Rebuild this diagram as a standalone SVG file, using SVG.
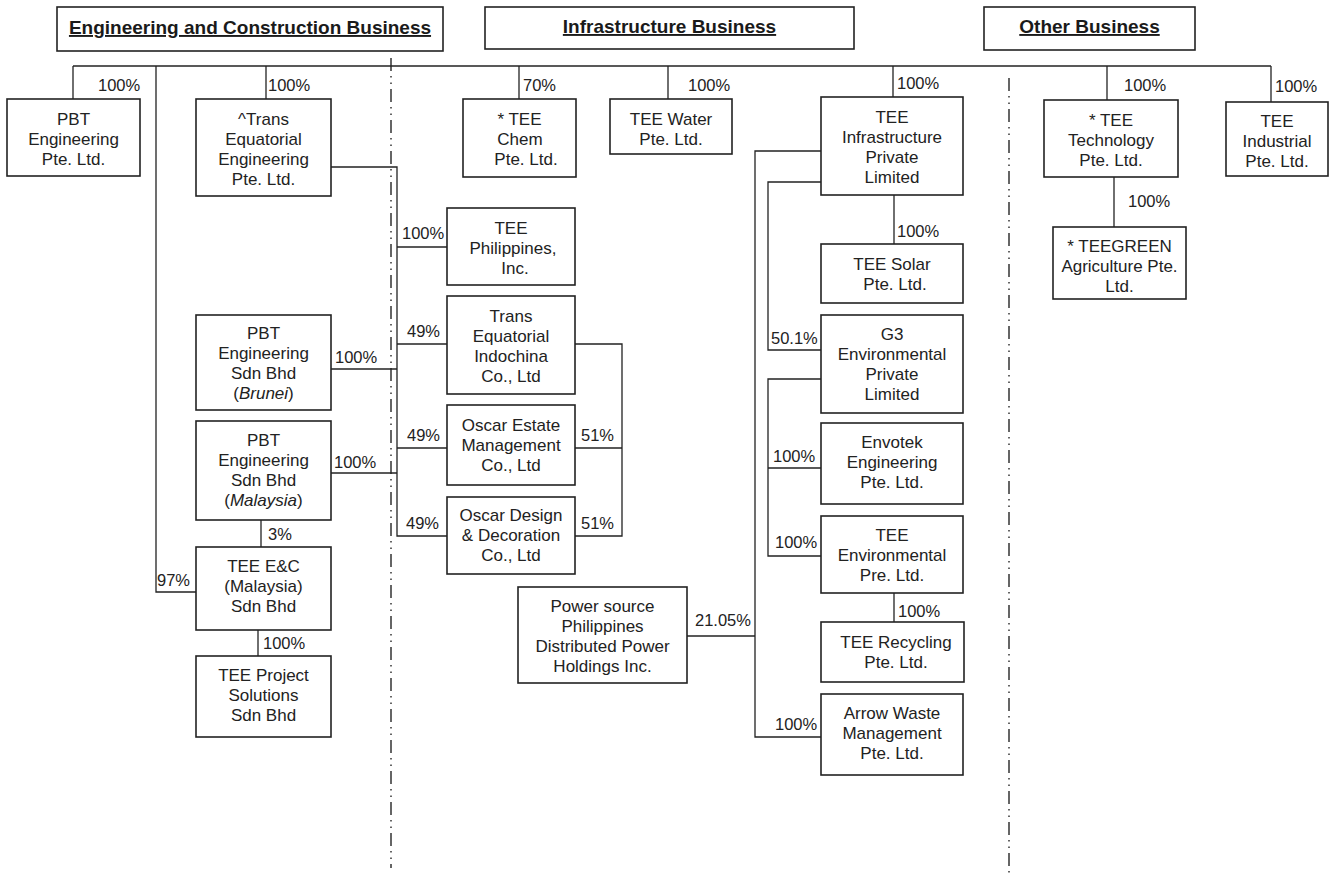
<svg xmlns="http://www.w3.org/2000/svg" width="1333" height="882" viewBox="0 0 1333 882">
<style>
.box{fill:#fff;stroke:#222;stroke-width:1.6}
.hdr{fill:#fff;stroke:#222;stroke-width:1.6}
.ht{font-family:"Liberation Sans",Arial,sans-serif;font-size:19px;font-weight:bold;fill:#1a1a1a;text-anchor:middle;text-decoration:underline}
.t{font-family:"Liberation Sans",Arial,sans-serif;font-size:17px;fill:#222;text-anchor:middle}
.p{font-family:"Liberation Sans",Arial,sans-serif;font-size:16.5px;fill:#222}
.c{fill:none;stroke:#222;stroke-width:1.3}
.dd{fill:none;stroke:#333;stroke-width:1.5;stroke-dasharray:13 5 1.5 5 1.5 5}
</style>
<rect width="1333" height="882" fill="#fff"/>
<g id="dividers">
<line class="dd" x1="391" y1="58" x2="391" y2="868"/>
<line class="dd" x1="1009" y1="78" x2="1009" y2="876"/>
</g>
<g id="connectors">
<path class="c" d="M73,66 H1271"/>
<path class="c" d="M73,66 V99"/>
<path class="c" d="M156,66 V592 H196"/>
<path class="c" d="M266,66 V99"/>
<path class="c" d="M519,66 V99"/>
<path class="c" d="M668,66 V99"/>
<path class="c" d="M893,66 V97"/>
<path class="c" d="M1107,66 V100"/>
<path class="c" d="M1271,66 V102"/>
<path class="c" d="M1114,177 V227"/>
<path class="c" d="M331,167 H397 V536 H447"/>
<path class="c" d="M397,247 H447"/>
<path class="c" d="M397,344 H447"/>
<path class="c" d="M397,448 H447"/>
<path class="c" d="M331,369 H397"/>
<path class="c" d="M331,473 H397"/>
<path class="c" d="M575,344 H622 V536 H575"/>
<path class="c" d="M575,448 H622"/>
<path class="c" d="M261,520 V547"/>
<path class="c" d="M258,630 V656"/>
<path class="c" d="M821,151 H755 V737 H821"/>
<path class="c" d="M687,636 H755"/>
<path class="c" d="M821,182 H768 V350 H821"/>
<path class="c" d="M894,195 V244"/>
<path class="c" d="M821,379 H768 V556 H821"/>
<path class="c" d="M768,468 H821"/>
<path class="c" d="M894,593 V622"/>
</g>
<g id="labels">
<text class="p" x="98" y="91">100%</text>
<text class="p" x="268" y="91">100%</text>
<text class="p" x="523" y="91">70%</text>
<text class="p" x="688" y="91">100%</text>
<text class="p" x="897" y="89">100%</text>
<text class="p" x="1124" y="91">100%</text>
<text class="p" x="1275" y="92">100%</text>
<text class="p" x="1128" y="207">100%</text>
<text class="p" x="897" y="237">100%</text>
<text class="p" x="771" y="344">50.1%</text>
<text class="p" x="773" y="462">100%</text>
<text class="p" x="775" y="548">100%</text>
<text class="p" x="898" y="617">100%</text>
<text class="p" x="775" y="730">100%</text>
<text class="p" x="695" y="626">21.05%</text>
<text class="p" x="402" y="239">100%</text>
<text class="p" x="407" y="337">49%</text>
<text class="p" x="407" y="441">49%</text>
<text class="p" x="406" y="529">49%</text>
<text class="p" x="581" y="441">51%</text>
<text class="p" x="581" y="529">51%</text>
<text class="p" x="335" y="363">100%</text>
<text class="p" x="334" y="468">100%</text>
<text class="p" x="268" y="540">3%</text>
<text class="p" x="157" y="586">97%</text>
<text class="p" x="263" y="649">100%</text>
</g>
<g id="hdr-ec"><rect class="hdr" x="57" y="7" width="386" height="44"/><text class="ht" x="250" y="34">Engineering and Construction Business</text></g>
<g id="hdr-infra"><rect class="hdr" x="485" y="7" width="369" height="42"/><text class="ht" x="669.5" y="33">Infrastructure Business</text></g>
<g id="hdr-other"><rect class="hdr" x="984" y="7" width="211" height="43"/><text class="ht" x="1089.5" y="33">Other Business</text></g>
<g id="pbt-eng"><rect class="box" x="7" y="99" width="133" height="77"/><text class="t" x="73.5" y="125">PBT</text><text class="t" x="73.5" y="145">Engineering</text><text class="t" x="73.5" y="165">Pte. Ltd.</text></g>
<g id="trans-eq-eng"><rect class="box" x="196" y="99" width="135" height="97"/><text class="t" x="263.5" y="125">^Trans</text><text class="t" x="263.5" y="145">Equatorial</text><text class="t" x="263.5" y="165">Engineering</text><text class="t" x="263.5" y="185">Pte. Ltd.</text></g>
<g id="tee-chem"><rect class="box" x="463" y="99" width="113" height="78"/><text class="t" x="519.5" y="125">* TEE</text><text class="t" x="520" y="145">Chem</text><text class="t" x="526" y="165">Pte. Ltd.</text></g>
<g id="tee-water"><rect class="box" x="610" y="99" width="122" height="55"/><text class="t" x="671" y="125">TEE Water</text><text class="t" x="671" y="145">Pte. Ltd.</text></g>
<g id="tee-infra"><rect class="box" x="821" y="97" width="142" height="98"/><text class="t" x="892" y="123">TEE</text><text class="t" x="892" y="143">Infrastructure</text><text class="t" x="892" y="163">Private</text><text class="t" x="892" y="183">Limited</text></g>
<g id="tee-tech"><rect class="box" x="1044" y="100" width="134" height="77"/><text class="t" x="1111" y="126">* TEE</text><text class="t" x="1111" y="146">Technology</text><text class="t" x="1111" y="166">Pte. Ltd.</text></g>
<g id="tee-industrial"><rect class="box" x="1226" y="102" width="102" height="74"/><text class="t" x="1277" y="127">TEE</text><text class="t" x="1277" y="147">Industrial</text><text class="t" x="1277" y="167">Pte. Ltd.</text></g>
<g id="teegreen"><rect class="box" x="1053" y="227" width="133" height="72"/><text class="t" x="1119.5" y="252">* TEEGREEN</text><text class="t" x="1119.5" y="272">Agriculture Pte.</text><text class="t" x="1119.5" y="292">Ltd.</text></g>
<g id="tee-phil"><rect class="box" x="447" y="208" width="128" height="77"/><text class="t" x="511" y="234">TEE</text><text class="t" x="513" y="254">Philippines,</text><text class="t" x="515" y="274">Inc.</text></g>
<g id="trans-indo"><rect class="box" x="447" y="296" width="128" height="98"/><text class="t" x="511" y="322">Trans</text><text class="t" x="511" y="342">Equatorial</text><text class="t" x="511" y="362">Indochina</text><text class="t" x="511" y="382">Co., Ltd</text></g>
<g id="oscar-estate"><rect class="box" x="447" y="405" width="128" height="80"/><text class="t" x="511" y="431">Oscar Estate</text><text class="t" x="511" y="451">Management</text><text class="t" x="511" y="471">Co., Ltd</text></g>
<g id="oscar-design"><rect class="box" x="447" y="497" width="128" height="77"/><text class="t" x="511" y="521">Oscar Design</text><text class="t" x="511" y="541">&amp; Decoration</text><text class="t" x="511" y="561">Co., Ltd</text></g>
<g id="pbt-brunei"><rect class="box" x="196" y="315" width="135" height="95"/><text class="t" x="263.5" y="339">PBT</text><text class="t" x="263.5" y="359">Engineering</text><text class="t" x="263.5" y="379">Sdn Bhd</text><text class="t" x="263.5" y="399">(<tspan font-style="italic">Brunei</tspan>)</text></g>
<g id="pbt-malaysia"><rect class="box" x="196" y="421" width="135" height="99"/><text class="t" x="263.5" y="446">PBT</text><text class="t" x="263.5" y="466">Engineering</text><text class="t" x="263.5" y="486">Sdn Bhd</text><text class="t" x="263.5" y="506">(<tspan font-style="italic">Malaysia</tspan>)</text></g>
<g id="tee-ec"><rect class="box" x="196" y="547" width="135" height="83"/><text class="t" x="263.5" y="572">TEE E&amp;C</text><text class="t" x="263.5" y="592">(Malaysia)</text><text class="t" x="263.5" y="612">Sdn Bhd</text></g>
<g id="tee-project"><rect class="box" x="196" y="656" width="135" height="81"/><text class="t" x="263.5" y="681">TEE Project</text><text class="t" x="263.5" y="701">Solutions</text><text class="t" x="263.5" y="721">Sdn Bhd</text></g>
<g id="power-source"><rect class="box" x="518" y="587" width="169" height="96"/><text class="t" x="602.5" y="612">Power source</text><text class="t" x="602.5" y="632">Philippines</text><text class="t" x="602.5" y="652">Distributed Power</text><text class="t" x="602.5" y="672">Holdings Inc.</text></g>
<g id="tee-solar"><rect class="box" x="821" y="244" width="142" height="59"/><text class="t" x="892" y="270">TEE Solar</text><text class="t" x="895" y="290">Pte. Ltd.</text></g>
<g id="g3"><rect class="box" x="821" y="315" width="142" height="98"/><text class="t" x="892" y="340">G3</text><text class="t" x="892" y="360">Environmental</text><text class="t" x="892" y="380">Private</text><text class="t" x="892" y="400">Limited</text></g>
<g id="envotek"><rect class="box" x="821" y="423" width="142" height="81"/><text class="t" x="892" y="448">Envotek</text><text class="t" x="892" y="468">Engineering</text><text class="t" x="892" y="488">Pte. Ltd.</text></g>
<g id="tee-env"><rect class="box" x="821" y="516" width="142" height="77"/><text class="t" x="892" y="541">TEE</text><text class="t" x="892" y="561">Environmental</text><text class="t" x="892" y="581">Pre. Ltd.</text></g>
<g id="tee-recycling"><rect class="box" x="821" y="622" width="143" height="60"/><text class="t" x="896" y="648">TEE Recycling</text><text class="t" x="896" y="668">Pte. Ltd.</text></g>
<g id="arrow-waste"><rect class="box" x="821" y="694" width="142" height="81"/><text class="t" x="892" y="719">Arrow Waste</text><text class="t" x="892" y="739">Management</text><text class="t" x="892" y="759">Pte. Ltd.</text></g>
</svg>
